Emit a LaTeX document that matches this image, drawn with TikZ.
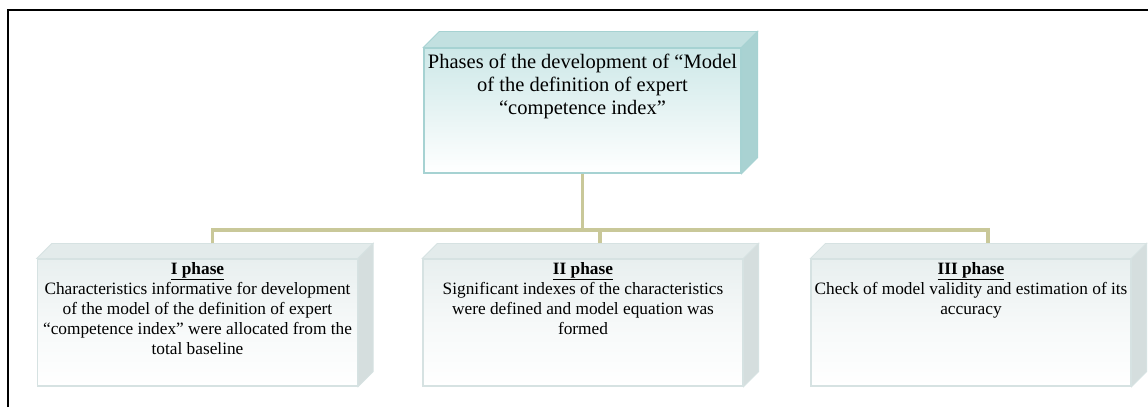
\documentclass[tikz,border=0pt]{standalone}
\usepackage{fontspec}
\setmainfont{Liberation Serif}
\usetikzlibrary{calc}
\definecolor{topface}{HTML}{C2E0E0}
\definecolor{topside}{HTML}{A9D2D2}
\definecolor{topfront}{HTML}{CDE8E8}
\definecolor{topedge}{HTML}{A6D2D2}
\definecolor{lowface}{HTML}{E3EBEB}
\definecolor{lowside}{HTML}{D5DEDE}
\definecolor{lowfront}{HTML}{E8EFEF}
\definecolor{lowedge}{HTML}{D6E2E2}
\definecolor{conn}{HTML}{C9C899}
\tikzset{
  frontbox/.style={rectangle, minimum width=#1, minimum height=127pt, inner sep=0pt},
  lowbox/.style={frontbox=320pt, draw=lowedge, line width=1.2pt, top color=lowfront, bottom color=white, middle color=white!60!lowfront, shading angle=0},
  highbox/.style={rectangle, minimum width=317pt, minimum height=125pt, inner sep=0pt, draw=topedge, line width=1.2pt, top color=topfront, bottom color=white},
  bigtxt/.style={anchor=north, align=center, font=\fontsize{20.5}{23}\selectfont, inner sep=0pt},
  smalltxt/.style={anchor=north, align=center, font=\fontsize{17.3}{20}\selectfont, inner sep=0pt},
  connector/.style={draw=conn, line width=3.6pt},
}
\begin{document}
\begin{tikzpicture}[x=1pt,y=-1pt]
\useasboundingbox (0,0) rectangle (1148,407);
\fill[white] (0,0) rectangle (1148,407);
% frame
\draw[line width=2pt] (8,407) -- (8,10) -- (1148,10);

\coordinate (hl) at (212,230);

% top box
\node[highbox] (t) at (582.5,110.5) {};
\fill[topface, draw=topedge, line width=0.8pt] (t.north west) -- ++(16,-16) -- ($(t.north east)+(16,-16)$) -- (t.north east) -- cycle;
\fill[topside, draw=topedge, line width=0.8pt] (t.north east) -- ++(16,-16) -- ($(t.south east)+(16,-16)$) -- (t.south east) -- cycle;
\node[bigtxt] (tt) at ($(t.north)+(0,6)$) {Phases of the development of “Model\\of the definition of expert\\“competence index”};

% lower boxes
\node[lowbox] (b1) at (197.5,322.5) {};
\node[lowbox] (b2) at (583,322.5) {};
\node[lowbox] (b3) at (971,322.5) {};
\foreach \b in {b1,b2,b3}{
  \fill[lowface, draw=lowedge, line width=0.8pt] (\b.north west) -- ++(15,-15) -- ($(\b.north east)+(15,-15)$) -- (\b.north east) -- cycle;
  \fill[lowside, draw=lowedge, line width=0.8pt] (\b.north east) -- ++(15,-15) -- ($(\b.south east)+(15,-15)$) -- (\b.south east) -- cycle;
}
\coordinate (c1) at ($(b1.north)+(15,-15)$);
\coordinate (c2) at ($(b2.north)+(17,-15)$);
\coordinate (c3) at ($(b3.north)+(17,-15)$);
\coordinate (hm) at (t.south |- hl);

\draw[connector] (t.south) -- (hm);
\draw[connector, line join=miter] (c1) -- (c1 |- hl) -- (c3 |- hl) -- (c3);
\draw[connector] (c2 |- hl) -- (c2);

\node[smalltxt] (t1) at ($(b1.north)+(0,4)$) {\underline{\textbf{I phase}}\\Characteristics informative for development\\of the model of the definition of expert\\“competence index” were allocated from the\\total baseline};
\node[smalltxt] (t2) at ($(b2.north)+(0,4)$) {\underline{\textbf{II phase}}\\Significant indexes of the characteristics\\were defined and model equation was\\formed};
\node[smalltxt] (t3) at ($(b3.north)+(0,4)$) {\underline{\textbf{III phase}}\\Check of model validity and estimation of its\\accuracy};
\end{tikzpicture}
\end{document}
